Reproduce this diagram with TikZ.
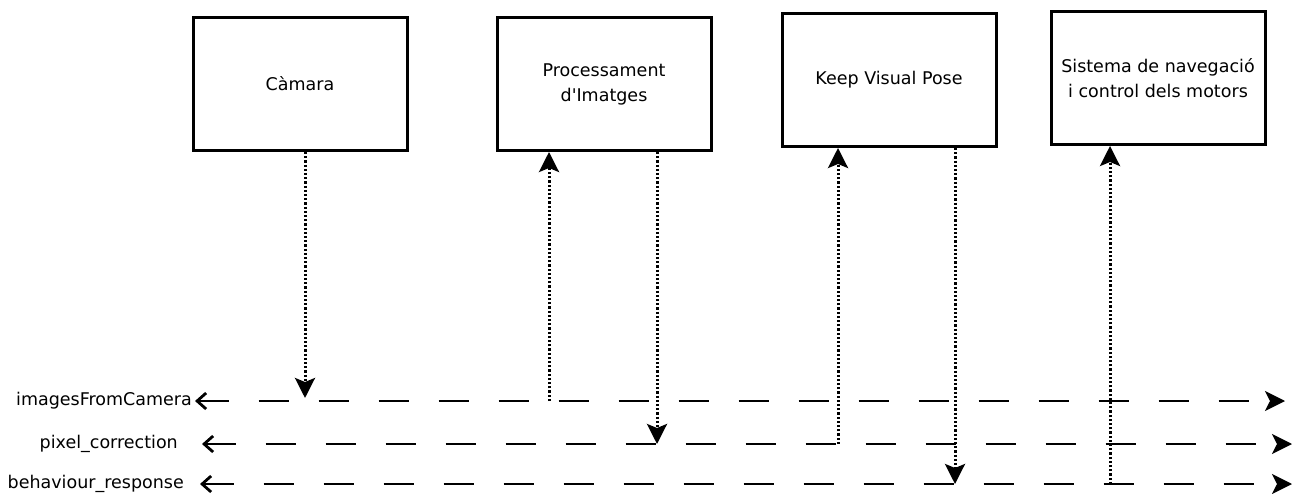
\documentclass[tikz,border=0pt]{standalone}
\usepackage{fontspec}
\setmainfont{DejaVu Sans}
\usepackage{tikz}
\usetikzlibrary{arrows.meta}

\begin{document}
\begin{tikzpicture}[x=1pt, y=-1pt]
        \useasboundingbox (0,0) rectangle (1300,494);

        \begin{scope}[every node/.style = {rectangle, draw, line width=3pt,
                        minimum width=214pt, minimum height=133pt, align=center,
                        font=\fontsize{17.5}{25}\selectfont}]
            \node (cam)  at (300, 84)  {Càmara};
            \node (proc) at (604, 84)  {Processament\\d\textquotesingle Imatges};
            \node (kvp)  at (889, 80)  {Keep Visual Pose};
            \node (nav)  at (1158, 78) {Sistema de navegació\\i control dels motors};
        \end{scope}

        % ends of the message lines
        \coordinate (imgA) at (195, 401);  \coordinate (imgB) at (1285, 401);
        \coordinate (pixA) at (202, 444);  \coordinate (pixB) at (1292, 444);
        \coordinate (behA) at (200, 484);  \coordinate (behB) at (1292, 484);

        \begin{scope}[every node/.style = {anchor=east, inner sep=0pt,
                        font=\fontsize{17.5}{20}\selectfont}]
            \node (imgL) at ([xshift=-3pt]imgA)  {imagesFromCamera};
            \node (pixL) at ([xshift=-24pt]pixA) {pixel\_correction};
            \node (behL) at ([xshift=-16pt]behA) {behaviour\_response};
        \end{scope}

        % points where the lifelines leave the boxes
        \coordinate (camD)  at ([xshift=5pt]cam.south);
        \coordinate (procU) at ([xshift=-55pt]proc.south);
        \coordinate (procD) at ([xshift=53pt]proc.south);
        \coordinate (kvpU)  at ([xshift=-51pt]kvp.south);
        \coordinate (kvpD)  at ([xshift=66pt]kvp.south);
        \coordinate (navU)  at ([xshift=-48pt]nav.south);

        \begin{scope}[every edge/.style={draw, line width=2.8pt, dash pattern=on 30pt off 30pt}]
            \path [{Straight Barb[length=9pt, width=16pt]}-{Stealth[length=20pt, width=20pt, inset=5pt]}] (imgA) edge (imgB);
            \path [{Straight Barb[length=9pt, width=16pt]}-{Stealth[length=20pt, width=20pt, inset=5pt]}] (pixA) edge (pixB);
            \path [{Straight Barb[length=9pt, width=16pt]}-{Stealth[length=20pt, width=20pt, inset=5pt]}] (behA) edge (behB);
        \end{scope}

        \begin{scope}[>={Stealth[length=20pt, width=20pt, inset=4pt]},
                        every edge/.style={draw, line width=3pt, dash pattern=on 2.2pt off 2pt}]
            \path [->] (camD) edge[shorten >=3pt] (camD |- imgA);
            \path [->] (procU |- imgA) edge (procU);
            \path [->] (procD) edge (procD |- pixA);
            \path [->] (kvpU |- pixA) edge (kvpU);
            \path [->] (kvpD) edge (kvpD |- behA);
            \path [->] (navU |- behA) edge (navU);
        \end{scope}
    \end{tikzpicture}
\end{document}
